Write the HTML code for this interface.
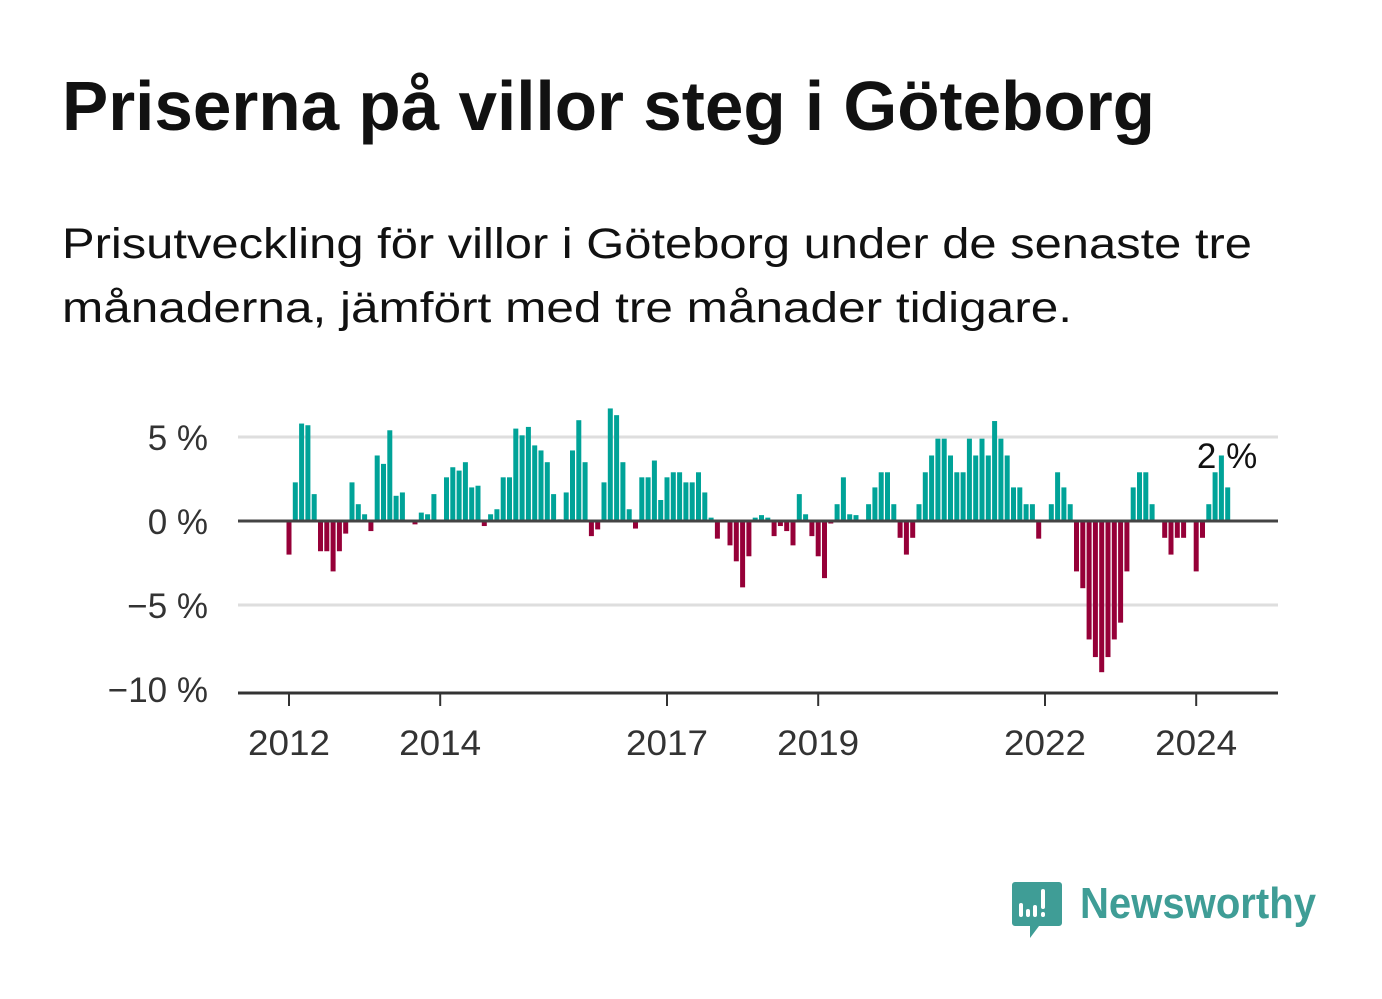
<!DOCTYPE html>
<html><head><meta charset="utf-8"><style>
html,body{margin:0;padding:0;background:#fff;}
svg{display:block;font-family:"Liberation Sans","DejaVu Sans",sans-serif;}
</style></head><body>
<svg id="chart" width="1382" height="999" viewBox="0 0 1382 999" xmlns="http://www.w3.org/2000/svg">
<text x="62" y="130" font-size="70" font-weight="bold" fill="#111" textLength="1093" lengthAdjust="spacingAndGlyphs">Priserna på villor steg i Göteborg</text>
<text x="62" y="258" font-size="43" fill="#111" textLength="1190" lengthAdjust="spacingAndGlyphs">Prisutveckling för villor i Göteborg under de senaste tre</text>
<text x="62" y="322" font-size="43" fill="#111" textLength="1010" lengthAdjust="spacingAndGlyphs">månaderna, jämfört med tre månader tidigare.</text>
<g id="grid"></g><g id="bars"></g><g id="axes"></g>
<g>
<path d="M1015 882 h44 a3 3 0 0 1 3 3 v38 a3 3 0 0 1 -3 3 h-20 l-9 12 v-12 h-15 a3 3 0 0 1 -3 -3 v-38 a3 3 0 0 1 3 -3z" fill="#3f9d96"/>
<rect x="1019" y="903" width="4" height="14" rx="2" fill="#fff"/>
<rect x="1026" y="909" width="4" height="8" rx="2" fill="#fff"/>
<rect x="1033" y="905" width="4" height="12" rx="2" fill="#fff"/>
<rect x="1041" y="889" width="4" height="20" rx="2" fill="#fff"/>
<rect x="1041" y="912" width="4" height="5" rx="2" fill="#fff"/>
<text x="1080" y="918" font-size="44" font-weight="bold" fill="#3f9d96" textLength="236" lengthAdjust="spacingAndGlyphs">Newsworthy</text>
</g>
</svg>
<script>
const values = [
-2.0,2.3,5.8,5.7,1.6,-1.8,-1.8,-3.0,-1.8,-0.75,2.3,1.0,
0.4,-0.6,3.9,3.4,5.4,1.5,1.7,0,-0.2,0.5,0.4,1.6,
0,2.6,3.2,3.0,3.5,2.0,2.1,-0.3,0.4,0.7,2.6,2.6,
5.5,5.1,5.6,4.5,4.2,3.5,1.6,0.1,1.7,4.2,6.0,3.5,
-0.9,-0.5,2.3,6.7,6.3,3.5,0.7,-0.45,2.6,2.6,3.6,1.25,
2.6,2.9,2.9,2.3,2.3,2.9,1.7,0.2,-1.05,0,-1.45,-2.4,
-3.95,-2.1,0.2,0.35,0.2,-0.9,-0.3,-0.6,-1.45,1.6,0.4,-0.9,
-2.1,-3.4,-0.15,1.0,2.6,0.4,0.35,0,1.0,2.0,2.9,2.9,
1.0,-1.0,-2.0,-1.0,1.0,2.9,3.9,4.9,4.9,3.9,2.9,2.9,
4.9,3.9,4.9,3.9,5.95,4.9,3.9,2.0,2.0,1.0,1.0,-1.05,
0,1.0,2.9,2.0,1.0,-3.0,-4.0,-7.05,-8.1,-9.0,-8.1,-7.05,
-6.05,-3.0,2.0,2.9,2.9,1.0,0,-1.0,-2.0,-1.0,-1.0,0,
-3.0,-1.0,1.0,2.9,3.9,2.0
];
const startYear = 2012;
const yTicks = [5, 0, -5, -10];
const yTickLabels = ["5 %", "0 %", "\u22125 %", "\u221210 %"];
const xTickYears = [2012, 2014, 2017, 2019, 2022, 2024];
const lastLabel = "2 %";

const NS = "http://www.w3.org/2000/svg";
function x(monthIndex){ return 286.5 + monthIndex * 6.3; }
function y(v){ return 521 - v * 16.8; }
function mk(tag, attrs, parent){ const e=document.createElementNS(NS,tag); for(const k in attrs) e.setAttribute(k,attrs[k]); parent.appendChild(e); return e; }
const grid=document.getElementById('grid'), bars=document.getElementById('bars'), axes=document.getElementById('axes');
yTicks.forEach((t,i)=>{
  if(t!==0 && t!==-10){
    const l=mk('line',{x1:238,x2:1278,y1:y(t),y2:y(t),stroke:'#dedede','stroke-width':3},grid);
    
    
  }
  const tx=mk('text',{x:208,y:y(t)+13,'font-size':35,fill:'#333','text-anchor':'end'},axes);
  
  
  tx.textContent=yTickLabels[i];
});
values.forEach((v,i)=>{
  if(v===0) return;
  const top=Math.min(y(v),y(0)), h=Math.abs(y(v)-y(0));
  const r=mk('rect',{x:x(i),y:top,width:5,height:h,fill:v>0?'#00a398':'#960038'},bars);
  
  
});
const zl=mk('line',{x1:238,x2:1278,y1:y(0),y2:y(0),stroke:'#444','stroke-width':3},axes);


const xl=mk('line',{x1:238,x2:1278,y1:693,y2:693,stroke:'#333','stroke-width':3},axes);


xTickYears.forEach(yr=>{
  const px=x((yr-startYear)*12)+2.5;
  const tk=mk('line',{x1:px,x2:px,y1:693,y2:706,stroke:'#333','stroke-width':2},axes);
  
  
  const t=mk('text',{x:px,y:755,'font-size':35,fill:'#333','text-anchor':'middle',textLength:82,lengthAdjust:'spacingAndGlyphs'},axes);
  
  
  t.textContent=yr;
});
const li=values.length-1;
const lab=mk('text',{x:x(li)+32,y:468,'font-size':35,fill:'#111','text-anchor':'end',stroke:'#fff','stroke-width':6,'paint-order':'stroke'},axes);


lab.textContent=lastLabel;
</script>
</body></html>
